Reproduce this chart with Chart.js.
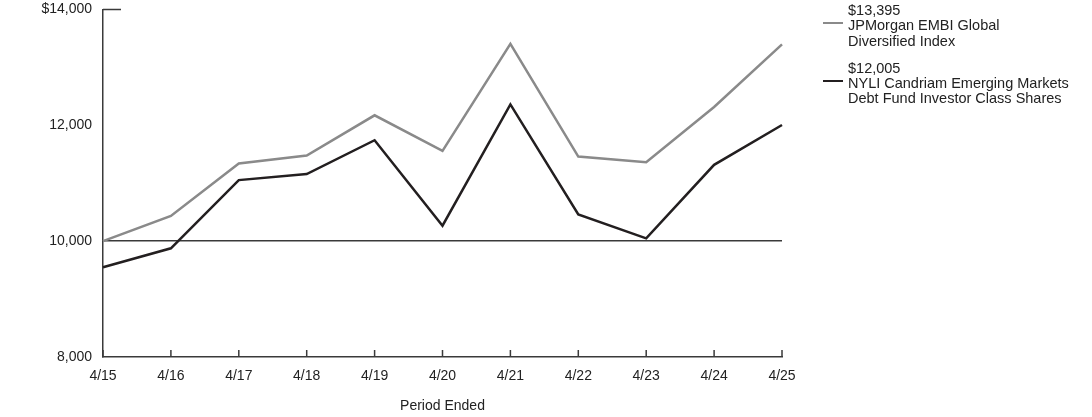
<!DOCTYPE html>
<html>
<head>
<meta charset="utf-8">
<script src="https://cdn.jsdelivr.net/npm/chart.js@4"></script>
<style>
  html, body { margin: 0; padding: 0; background: #fff; }
  #wrap { position: relative; width: 1092px; height: 417px; overflow: hidden; }
  #growth-chart { position: absolute; left: 0; top: -10px; }
  #legend { position: absolute; left: 823px; top: 3px; font-family: "Liberation Sans", Arial, sans-serif; font-size: 14.5px; line-height: 15.3px; color: #222; }
  .item { position: relative; padding-left: 25px; margin-bottom: 12px; white-space: pre-line; }
  .swatch { position: absolute; left: 0; top: 19px; width: 20px; height: 0; border-top: 2.5px solid; }
</style>
</head>
<body>
<div id="wrap">
  <canvas id="growth-chart" width="1092" height="427"></canvas>
  <div id="legend"></div>
</div>
<script>
const periods = ['4/15','4/16','4/17','4/18','4/19','4/20','4/21','4/22','4/23','4/24','4/25'];
const indexValues = [10000,10434,11339,11477,12172,11558,13404,11460,11363,12315,13395];
const fundValues = [9549,9876,11053,11157,11742,10267,12361,10461,10048,11317,12005];
const yTicks = [8000,10000,12000,14000];

const indexLabel = 'JPMorgan EMBI Global\nDiversified Index';
const fundLabel = 'NYLI Candriam Emerging Markets\nDebt Fund Investor Class Shares';

const fontName = '"Liberation Sans", Arial, sans-serif';
const axisColor = '#3a3a3a';

// short stub at the top of the y axis and inward ticks on the x axis
const axisMarks = {
  id: 'axisMarks',
  afterDraw(chart) {
    const ctx = chart.ctx;
    const x = chart.scales.x, y = chart.scales.y;
    ctx.save();
    ctx.strokeStyle = axisColor;
    ctx.lineWidth = 1.5;
    ctx.beginPath();
    const top = y.getPixelForValue(14000);
    ctx.moveTo(x.left, top);
    ctx.lineTo(x.left + 18, top);
    x.ticks.forEach((t, i) => {
      const px = x.getPixelForTick(i);
      ctx.moveTo(px, y.bottom);
      ctx.lineTo(px, y.bottom - 7);
    });
    ctx.stroke();
    ctx.restore();
  }
};

const chartId = document.getElementById('growth-chart').getContext('2d');

const data = {
  labels: periods,
  datasets: [
    {
      label: indexLabel,
      data: indexValues,
      borderColor: '#8a8a8a',
      backgroundColor: '#8a8a8a',
      borderWidth: 2.5,
      pointRadius: 0,
      tension: 0
    },
    {
      label: fundLabel,
      data: fundValues,
      borderColor: '#231f20',
      backgroundColor: '#231f20',
      borderWidth: 2.5,
      pointRadius: 0,
      tension: 0
    }
  ]
};

const myChart = new Chart(chartId, {
  type: 'line',
  data: data,
  options: {
    responsive: false,
    animation: false,
    layout: { padding: { top: 0, right: 310, bottom: 0, left: 0 } },
    plugins: {
      legend: { display: false },
      tooltip: { enabled: false }
    },
    scales: {
      x: {
        offset: false,
        grid: { drawOnChartArea: false, drawTicks: false },
        border: { display: true, color: axisColor, width: 1.5 },
        ticks: { color: '#222', font: { family: fontName, size: 14 }, padding: 11, maxRotation: 0 },
        title: { display: true, text: 'Period Ended', color: '#222', font: { family: fontName, size: 14 }, padding: { top: 0, bottom: 2 } },
        afterFit: s => { s.height = 60; }
      },
      y: {
        min: 8000,
        max: 14000,
        afterBuildTicks: s => { s.ticks = yTicks.map(v => ({ value: v })); },
        grid: {
          drawTicks: false,
          color: c => (c.tick && c.tick.value === 10000 ? axisColor : 'rgba(0,0,0,0)'),
          lineWidth: 1.5
        },
        border: { display: true, color: axisColor, width: 1.5 },
        ticks: {
          color: '#222',
          font: { family: fontName, size: 14 },
          padding: 11,
          callback: v => (v === 14000 ? '$' : '') + v.toLocaleString('en-US')
        },
        afterFit: s => { s.width = 103; }
      }
    }
  },
  plugins: [axisMarks]
});

// legend with ending values
const legend = document.getElementById('legend');
[[indexLabel, indexValues, '#8a8a8a'], [fundLabel, fundValues, '#231f20']].forEach(([name, vals, color]) => {
  const item = document.createElement('div');
  item.className = 'item';
  item.textContent = '$' + vals[vals.length - 1].toLocaleString('en-US') + '\n' + name;
  const sw = document.createElement('span');
  sw.className = 'swatch';
  sw.style.borderColor = color;
  item.appendChild(sw);
  legend.appendChild(item);
});
</script>
</body>
</html>
